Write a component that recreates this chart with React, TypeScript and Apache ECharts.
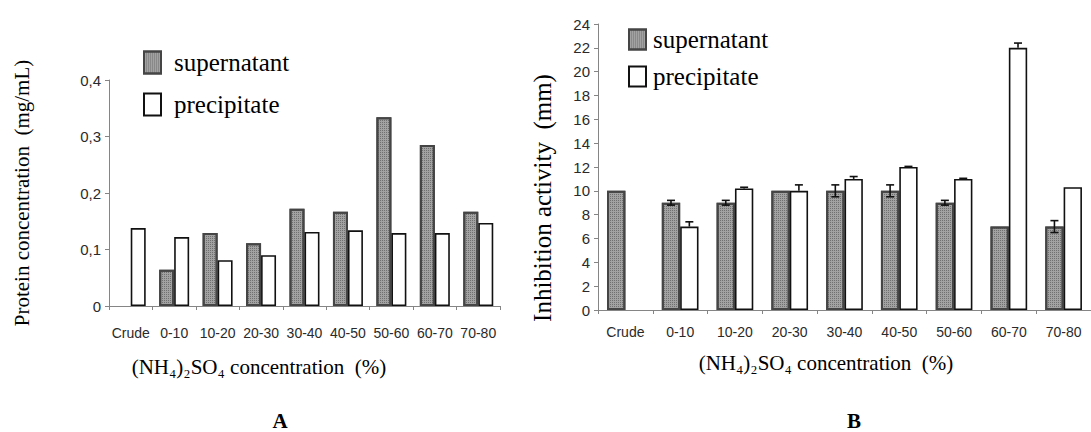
import React, { useEffect, useRef } from "react";
import * as echarts from "echarts";

const categories = ["Crude", "0-10", "10-20", "20-30", "30-40", "40-50", "50-60", "60-70", "70-80"];

// Chart A: protein concentration (mg/mL)
const proteinSupernatant = [null, 0.064, 0.129, 0.111, 0.172, 0.167, 0.334, 0.285, 0.167];
const proteinPrecipitate = [0.138, 0.122, 0.081, 0.09, 0.131, 0.134, 0.129, 0.129, 0.147];

// Chart B: inhibition activity (mm)
const inhibSupernatant = [10, 9, 9, 10, 10, 10, 9, 7, 7];
const inhibSupernatantErr = [0, 0.2, 0.2, 0, 0.5, 0.5, 0.2, 0, 0.5];
const inhibPrecipitate = [null, 7, 10.2, 10, 11, 12, 11, 22, 10.3];
const inhibPrecipitateErr = [0, 0.4, 0.1, 0.5, 0.2, 0.05, 0.05, 0.4, 0];

const proteinTicks = { min: 0, max: 0.4, interval: 0.1 };
const inhibTicks = { min: 0, max: 24, interval: 2 };

const SANS = "'Liberation Sans', Arial, sans-serif";
const SERIF = "'Liberation Serif', 'Times New Roman', serif";

const GAP_A = 0.31;
const GAP_B = 0.33;

const stipple = {
  symbol: "rect",
  symbolSize: 1,
  dashArrayX: [1, 1],
  dashArrayY: [1, 1],
  color: "rgba(70,70,70,0.55)",
};
const supStyle = { color: "#a2a2a2", borderColor: "#454545", borderWidth: 2, decal: stipple };
const preStyle = { color: "#ffffff", borderColor: "#111111", borderWidth: 1.6 };

function makeErrRender(gap: number, side: number) {
  return (params: any, api: any) => {
    const idx = api.value(0);
    const v = api.value(1);
    const e = api.value(2);
    if (!(e > 0)) return null;
    const pt = api.coord([idx, v]);
    const band = api.size([1, 0])[0];
    const barW = (band * (1 - gap)) / 2;
    const x = pt[0] + (side === 0 ? -barW / 2 : barW / 2);
    const yTop = api.coord([idx, v + e])[1];
    const yBot = side === 0 ? api.coord([idx, v - e])[1] : pt[1];
    const cap = 4;
    const st = { stroke: "#111", lineWidth: 1.6 };
    const children: any[] = [
      { type: "line", shape: { x1: x, y1: yTop, x2: x, y2: yBot }, style: st },
      { type: "line", shape: { x1: x - cap, y1: yTop, x2: x + cap, y2: yTop }, style: st },
    ];
    if (side === 0) {
      children.push({ type: "line", shape: { x1: x - cap, y1: yBot, x2: x + cap, y2: yBot }, style: st });
    }
    return { type: "group", children };
  };
}

export default function App() {
  const ref = useRef<HTMLDivElement>(null);
  useEffect(() => {
    if (!ref.current) return;
    const chart = echarts.init(ref.current, null, { renderer: "svg" });
    const axisLine = { show: true, lineStyle: { color: "#858585", width: 1 } };
    const axisTick = { show: true, length: 4, lineStyle: { color: "#858585" } };
    const xLabelStyle = { fontFamily: SANS, fontSize: 14, color: "#2a2a2a" };
    const yLabelStyle = { fontFamily: SANS, fontSize: 15, color: "#2a2a2a" };
    const supErrData = categories.map((_, i) => [i, inhibSupernatant[i], inhibSupernatantErr[i]]);
    const preErrData = categories.map((_, i) => [i, inhibPrecipitate[i] ?? 0, inhibPrecipitateErr[i]]);
    const legendBase = {
      data: ["supernatant", "precipitate"],
      orient: "vertical",
      padding: 0,
      icon: "rect",
      itemWidth: 17,
      selectedMode: false,
    };
    const option: any = {
      animation: false,
      backgroundColor: "#ffffff",
      grid: [
        { left: 109, top: 80, width: 391, height: 226 },
        { left: 598, top: 24, width: 500, height: 286 },
      ],
      legend: [
        {
          ...legendBase,
          left: 143,
          top: 50,
          itemHeight: 22,
          itemGap: 17,
          textStyle: { fontFamily: SERIF, fontSize: 25, color: "#000", padding: [0, 0, 0, 8] },
        },
        {
          ...legendBase,
          left: 628,
          top: 27,
          itemHeight: 20,
          itemGap: 12,
          textStyle: { fontFamily: SERIF, fontSize: 25, color: "#000", padding: [0, 0, 0, 2] },
        },
      ],
      xAxis: [
        {
          type: "category",
          gridIndex: 0,
          data: categories,
          axisLine,
          axisTick,
          axisLabel: { ...xLabelStyle, margin: 20, interval: 0 },
        },
        {
          type: "category",
          gridIndex: 1,
          data: categories,
          axisLine,
          axisTick,
          axisLabel: { ...xLabelStyle, margin: 15, interval: 0 },
        },
      ],
      yAxis: [
        {
          type: "value",
          gridIndex: 0,
          ...proteinTicks,
          axisLine,
          axisTick,
          splitLine: { show: false },
          axisLabel: {
            ...yLabelStyle,
            margin: 8,
            formatter: (v: number) => (v === 0 ? "0" : v.toFixed(1).replace(".", ",")),
          },
        },
        {
          type: "value",
          gridIndex: 1,
          ...inhibTicks,
          axisLine,
          axisTick,
          splitLine: { show: false },
          axisLabel: { ...yLabelStyle, margin: 8 },
        },
      ],
      series: [
        {
          name: "supernatant",
          type: "bar",
          xAxisIndex: 0,
          yAxisIndex: 0,
          data: proteinSupernatant,
          barGap: "0%",
          barCategoryGap: GAP_A * 100 + "%",
          itemStyle: supStyle,
        },
        {
          name: "precipitate",
          type: "bar",
          xAxisIndex: 0,
          yAxisIndex: 0,
          data: proteinPrecipitate,
          barGap: "0%",
          barCategoryGap: GAP_A * 100 + "%",
          itemStyle: preStyle,
        },
        {
          name: "supernatant",
          type: "bar",
          xAxisIndex: 1,
          yAxisIndex: 1,
          data: inhibSupernatant,
          barGap: "0%",
          barCategoryGap: GAP_B * 100 + "%",
          itemStyle: supStyle,
        },
        {
          name: "precipitate",
          type: "bar",
          xAxisIndex: 1,
          yAxisIndex: 1,
          data: inhibPrecipitate,
          barGap: "0%",
          barCategoryGap: GAP_B * 100 + "%",
          itemStyle: preStyle,
        },
        {
          name: "supErr",
          type: "custom",
          xAxisIndex: 1,
          yAxisIndex: 1,
          data: supErrData,
          renderItem: makeErrRender(GAP_B, 0),
          z: 5,
          silent: true,
        },
        {
          name: "preErr",
          type: "custom",
          xAxisIndex: 1,
          yAxisIndex: 1,
          data: preErrData,
          renderItem: makeErrRender(GAP_B, 1),
          z: 5,
          silent: true,
        },
      ],
      graphic: [
        {
          type: "text",
          x: 22,
          y: 193,
          rotation: Math.PI / 2,
          style: {
            text: "Protein concentration  (mg/mL)",
            font: `21px ${SERIF}`,
            fill: "#000",
            align: "center",
            verticalAlign: "middle",
          },
        },
        {
          type: "text",
          x: 542,
          y: 198,
          rotation: Math.PI / 2,
          style: {
            text: "Inhibition activity  (mm)",
            font: `25px ${SERIF}`,
            fill: "#000",
            align: "center",
            verticalAlign: "middle",
          },
        },
        {
          type: "text",
          x: 259,
          y: 367,
          style: {
            text: "(NH\u2084)\u2082SO\u2084 concentration  (%)",
            font: `21px ${SERIF}`,
            fill: "#000",
            align: "center",
            verticalAlign: "middle",
          },
        },
        {
          type: "text",
          x: 826,
          y: 363,
          style: {
            text: "(NH\u2084)\u2082SO\u2084 concentration  (%)",
            font: `21px ${SERIF}`,
            fill: "#000",
            align: "center",
            verticalAlign: "middle",
          },
        },
        {
          type: "text",
          x: 280,
          y: 421,
          style: { text: "A", font: `bold 21px ${SERIF}`, fill: "#000", align: "center", verticalAlign: "middle" },
        },
        {
          type: "text",
          x: 854,
          y: 421,
          style: { text: "B", font: `bold 21px ${SERIF}`, fill: "#000", align: "center", verticalAlign: "middle" },
        },
      ],
    };
    chart.setOption(option);
    return () => chart.dispose();
  }, []);
  return (
    <div
      ref={ref}
      style={{ position: "fixed", left: 0, top: 0, width: 1091, height: 432, background: "#fff" }}
    />
  );
}
